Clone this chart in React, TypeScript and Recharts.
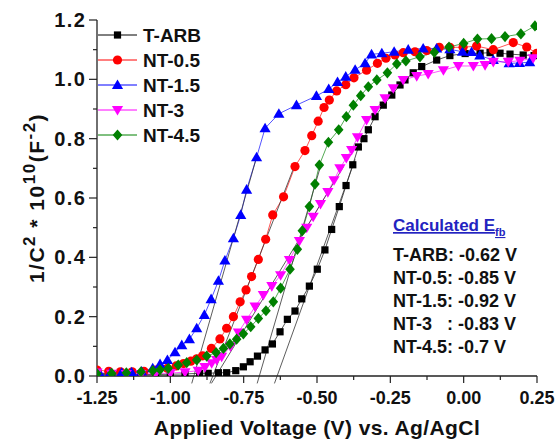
import React from 'react';
import { LineChart, Line, XAxis, YAxis, ReferenceLine } from 'recharts';

const FONT = '"Liberation Sans", Arial, Helvetica, sans-serif';

// applied voltage (V vs Ag/AgCl) and 1/C^2 * 1e10 for every sample
const tarbV = [-1.25, -1.2, -1.15, -1.1, -1.05, -1.0, -0.95, -0.9, -0.871, -0.836, -0.808, -0.777, -0.751, -0.728, -0.703, -0.677, -0.652, -0.626, -0.601, -0.575, -0.552, -0.526, -0.499, -0.473, -0.45, -0.424, -0.401, -0.378, -0.359, -0.34, -0.325, -0.302, -0.274, -0.245, -0.217, -0.2, -0.172, -0.143, -0.092, -0.047, 0.005, 0.056, 0.09, 0.124, 0.158, 0.203, 0.24];
const tarbC = [0.005, 0.005, 0.005, 0.005, 0.005, 0.006, 0.007, 0.009, 0.009, 0.011, 0.011, 0.018, 0.031, 0.048, 0.067, 0.088, 0.108, 0.149, 0.191, 0.219, 0.26, 0.303, 0.36, 0.425, 0.494, 0.571, 0.642, 0.712, 0.772, 0.8, 0.83, 0.874, 0.913, 0.947, 0.981, 0.998, 1.022, 1.043, 1.065, 1.08, 1.087, 1.088, 1.09, 1.088, 1.085, 1.082, 1.08];

const nt05V = [-1.25, -1.21, -1.17, -1.13, -1.09, -1.05, -1.01, -0.98, -0.955, -0.93, -0.91, -0.89, -0.86, -0.831, -0.808, -0.785, -0.762, -0.742, -0.723, -0.7, -0.675, -0.651, -0.614, -0.575, -0.541, -0.518, -0.496, -0.476, -0.458, -0.433, -0.402, -0.374, -0.331, -0.294, -0.265, -0.234, -0.206, -0.166, -0.126, -0.083, -0.047, -0.002, 0.044, 0.101, 0.169, 0.215, 0.249];
const nt05C = [0.02, 0.016, 0.014, 0.014, 0.016, 0.02, 0.026, 0.034, 0.042, 0.05, 0.058, 0.068, 0.093, 0.125, 0.161, 0.2, 0.25, 0.29, 0.335, 0.393, 0.461, 0.543, 0.604, 0.706, 0.76, 0.81, 0.859, 0.905, 0.93, 0.961, 0.982, 1.005, 1.031, 1.054, 1.071, 1.082, 1.09, 1.093, 1.097, 1.108, 1.108, 1.108, 1.112, 1.1, 1.124, 1.109, 1.088];

const nt15V = [-1.24, -1.206, -1.166, -1.132, -1.098, -1.06, -1.035, -1.01, -0.984, -0.961, -0.935, -0.91, -0.884, -0.861, -0.836, -0.814, -0.785, -0.76, -0.74, -0.706, -0.677, -0.63, -0.57, -0.502, -0.46, -0.43, -0.402, -0.37, -0.336, -0.314, -0.279, -0.237, -0.189, -0.138, -0.092, -0.047, -0.004, 0.027, 0.055, 0.101, 0.155, 0.19, 0.225];
const nt15C = [0.007, 0.009, 0.011, 0.012, 0.015, 0.026, 0.04, 0.054, 0.08, 0.104, 0.124, 0.161, 0.206, 0.259, 0.321, 0.389, 0.464, 0.543, 0.628, 0.737, 0.835, 0.884, 0.913, 0.944, 0.967, 0.991, 1.009, 1.032, 1.054, 1.084, 1.088, 1.093, 1.1, 1.104, 1.104, 1.101, 1.093, 1.092, 1.08, 1.065, 1.054, 1.055, 1.058];

const nt3V = [-1.25, -1.2, -1.15, -1.1, -1.05, -1.0, -0.95, -0.905, -0.882, -0.859, -0.842, -0.825, -0.795, -0.768, -0.74, -0.711, -0.683, -0.654, -0.624, -0.594, -0.56, -0.535, -0.513, -0.488, -0.463, -0.442, -0.422, -0.4, -0.382, -0.362, -0.331, -0.302, -0.268, -0.24, -0.206, -0.16, -0.121, -0.069, -0.018, 0.033, 0.073, 0.101, 0.152, 0.192, 0.237];
const nt3C = [0.012, 0.008, 0.007, 0.007, 0.008, 0.01, 0.013, 0.018, 0.03, 0.043, 0.054, 0.065, 0.1, 0.147, 0.19, 0.234, 0.273, 0.303, 0.34, 0.391, 0.455, 0.5, 0.537, 0.58, 0.62, 0.66, 0.7, 0.735, 0.762, 0.805, 0.863, 0.897, 0.936, 0.97, 0.998, 1.011, 1.018, 1.031, 1.045, 1.045, 1.048, 1.059, 1.059, 1.063, 1.071];

const nt45V = [-1.25, -1.2, -1.15, -1.1, -1.06, -1.035, -1.007, -0.973, -0.944, -0.91, -0.876, -0.844, -0.819, -0.797, -0.774, -0.751, -0.726, -0.7, -0.674, -0.649, -0.624, -0.592, -0.567, -0.55, -0.526, -0.507, -0.492, -0.461, -0.426, -0.4, -0.376, -0.351, -0.325, -0.296, -0.26, -0.228, -0.197, -0.149, -0.1, -0.05, 0.0, 0.047, 0.095, 0.141, 0.195, 0.243];
const nt45C = [0.008, 0.009, 0.011, 0.014, 0.018, 0.021, 0.026, 0.037, 0.045, 0.054, 0.067, 0.079, 0.093, 0.108, 0.124, 0.142, 0.166, 0.194, 0.22, 0.25, 0.296, 0.36, 0.427, 0.49, 0.571, 0.647, 0.711, 0.788, 0.83, 0.874, 0.913, 0.945, 0.975, 0.998, 1.022, 1.052, 1.062, 1.076, 1.091, 1.109, 1.121, 1.136, 1.137, 1.144, 1.153, 1.18];

// Mott-Schottky extrapolation lines (foot just below the axis, top on the linear part)
const tangentFootV = [-0.645, -0.865, -0.927, -0.86, -0.704];
const tangentFootC = [-0.025, -0.025, -0.025, -0.025, -0.025];
const tangentTopV = [-0.37, -0.58, -0.706, -0.41, -0.49];
const tangentTopC = [0.73, 0.7, 0.737, 0.705, 0.7];

const efbLines = ['T-ARB: -0.62 V', 'NT-0.5: -0.85 V', 'NT-1.5: -0.92 V', 'NT-3   : -0.83 V', 'NT-4.5: -0.7 V'];

const xTicks = [-1.25, -1.125, -1.0, -0.875, -0.75, -0.625, -0.5, -0.375, -0.25, -0.125, 0, 0.125, 0.25];
const yTicks = [0, 0.1, 0.2, 0.3, 0.4, 0.5, 0.6, 0.7, 0.8, 0.9, 1.0, 1.1, 1.2];

type Shape = 'square' | 'circle' | 'up' | 'down' | 'diamond';

const series: { name: string; v: number[]; c: number[]; color: string; shape: Shape }[] = [
  { name: 'T-ARB', v: tarbV, c: tarbC, color: '#000000', shape: 'square' },
  { name: 'NT-0.5', v: nt05V, c: nt05C, color: '#ff0000', shape: 'circle' },
  { name: 'NT-1.5', v: nt15V, c: nt15C, color: '#0000ff', shape: 'up' },
  { name: 'NT-3', v: nt3V, c: nt3C, color: '#ff00ff', shape: 'down' },
  { name: 'NT-4.5', v: nt45V, c: nt45C, color: '#008000', shape: 'diamond' },
];

const Marker = ({ shape, cx, cy, color }: { shape: Shape; cx: number; cy: number; color: string }) => {
  if (shape === 'square') return <rect x={cx - 3.6} y={cy - 3.6} width={7.2} height={7.2} fill={color} />;
  if (shape === 'circle') return <circle cx={cx} cy={cy} r={4.6} fill={color} />;
  if (shape === 'up') return <polygon points={`${cx},${cy - 5.6} ${cx + 5.6},${cy + 4} ${cx - 5.6},${cy + 4}`} fill={color} />;
  if (shape === 'down') return <polygon points={`${cx},${cy + 5.6} ${cx + 5.6},${cy - 4} ${cx - 5.6},${cy - 4}`} fill={color} />;
  return <polygon points={`${cx},${cy - 5.6} ${cx + 4.8},${cy} ${cx},${cy + 5.6} ${cx - 4.8},${cy}`} fill={color} />;
};

const isMajor = (v: number, step: number) => Math.abs(v / step - Math.round(v / step)) < 1e-6;

const renderXTick = (props: any) => {
  const { x, y, payload } = props;
  const major = isMajor(payload.value, 0.25);
  return (
    <g>
      <line x1={x} x2={x} y1={y} y2={y + (major ? 7 : 4)} stroke="#222" strokeWidth={1.2} />
      {major && (
        <text x={x} y={y + 28} textAnchor="middle" fontFamily={FONT} fontWeight="bold" fontSize={18} fill="#111">
          {payload.value.toFixed(2)}
        </text>
      )}
    </g>
  );
};

const renderYTick = (props: any) => {
  const { x, y, payload } = props;
  const major = isMajor(payload.value, 0.2);
  return (
    <g>
      <line x1={x - (major ? 8 : 4)} x2={x} y1={y} y2={y} stroke="#222" strokeWidth={1.2} />
      {major && (
        <text x={x - 10.5} y={y + 7} textAnchor="end" fontFamily={FONT} fontWeight="bold" fontSize={20} letterSpacing={1.5} fill="#111">
          {payload.value.toFixed(1)}
        </text>
      )}
    </g>
  );
};

const XTitle = ({ viewBox }: any) => (
  <text x={viewBox.x + viewBox.width / 2} y={viewBox.y + 59} textAnchor="middle" fontFamily={FONT} fontWeight="bold" fontSize={21} letterSpacing={0.4} fill="#111">
    Applied Voltage (V) vs. Ag/AgCl
  </text>
);

const YTitle = ({ viewBox }: any) => {
  const cx = viewBox.x + 44;
  const cy = viewBox.y + viewBox.height / 2;
  return (
    <text x={cx} y={cy} transform={`rotate(-90 ${cx} ${cy})`} textAnchor="middle" fontFamily={FONT} fontWeight="bold" fontSize={21} letterSpacing={1.5} fill="#111">
      1/C<tspan dy={-9} fontSize={17}>2</tspan>
      <tspan dy={9}> * 10</tspan>
      <tspan dy={-9} fontSize={17}>10</tspan>
      <tspan dy={9}>(F</tspan>
      <tspan dy={-9} fontSize={17}>-2</tspan>
      <tspan dy={9}>)</tspan>
    </text>
  );
};

const Overlay = () => (
  <svg width={560} height={441} style={{ position: 'absolute', left: 0, top: 0, pointerEvents: 'none' }}>
    {series.map((s, i) => {
      const y = 35 + i * 25;
      return (
        <g key={s.name}>
          <line x1={98} x2={137} y1={y} y2={y} stroke={s.color} strokeWidth={1} />
          <Marker shape={s.shape} cx={117.5} cy={y} color={s.color} />
          <text x={143} y={y + 7} fontFamily={FONT} fontWeight="bold" fontSize={19} fill="#111">
            {s.name}
          </text>
        </g>
      );
    })}
    <text x={393} y={231} fontFamily={FONT} fontWeight="bold" fontSize={17} fill="#2323c0" textDecoration="underline">
      Calculated E<tspan dy={5} fontSize={11}>fb</tspan>
    </text>
    {efbLines.map((t, i) => (
      <text key={t} x={393} y={261 + i * 23} fontFamily={FONT} fontWeight="bold" fontSize={18} fill="#111" style={{ whiteSpace: 'pre' }}>
        {t}
      </text>
    ))}
  </svg>
);

export default function App() {
  return (
    <div style={{ position: 'absolute', left: 0, top: 0, width: 560, height: 441, background: '#fff' }}>
      <LineChart width={560} height={441} margin={{ top: 20, right: 23, bottom: 0, left: 0 }}>
        <XAxis
          type="number"
          dataKey="v"
          domain={[-1.25, 0.25]}
          ticks={xTicks}
          interval={0}
          allowDataOverflow
          tick={renderXTick}
          tickLine={false}
          tickSize={0}
          tickMargin={0}
          height={65}
          axisLine={{ stroke: '#222', strokeWidth: 1.3 }}
          label={<XTitle />}
        />
        <XAxis xAxisId="top" orientation="top" type="number" domain={[-1.25, 0.25]} allowDataOverflow tick={false} tickLine={false} height={0} axisLine={{ stroke: '#444', strokeWidth: 1.6 }} />
        <YAxis
          type="number"
          domain={[0, 1.2]}
          ticks={yTicks}
          interval={0}
          allowDataOverflow
          tick={renderYTick}
          tickLine={false}
          tickSize={0}
          tickMargin={0}
          width={97}
          axisLine={{ stroke: '#222', strokeWidth: 1.3 }}
          label={<YTitle />}
        />
        <YAxis yAxisId="right" orientation="right" type="number" domain={[0, 1.2]} allowDataOverflow tick={false} tickLine={false} width={0} axisLine={{ stroke: '#444', strokeWidth: 1.6 }} />
        {series.map((s) => (
          <Line
            key={s.name}
            name={s.name}
            data={s.v.map((v, i) => ({ v, c: s.c[i] }))}
            dataKey="c"
            stroke={s.color}
            strokeWidth={0.9}
            strokeOpacity={0.75}
            isAnimationActive={false}
            activeDot={false}
            dot={(p: any) => (
              <g key={`${s.name}-${p.index}`}>
                {p.cx != null && p.cy != null && <Marker shape={s.shape} cx={p.cx} cy={p.cy} color={s.color} />}
              </g>
            )}
          />
        ))}
        {tangentFootV.map((fv, i) => (
          <ReferenceLine
            key={`tan-${i}`}
            segment={[{ x: fv, y: tangentFootC[i] }, { x: tangentTopV[i], y: tangentTopC[i] }]}
            stroke="#333"
            strokeWidth={0.8}
            ifOverflow="visible"
          />
        ))}
      </LineChart>
      <Overlay />
    </div>
  );
}
